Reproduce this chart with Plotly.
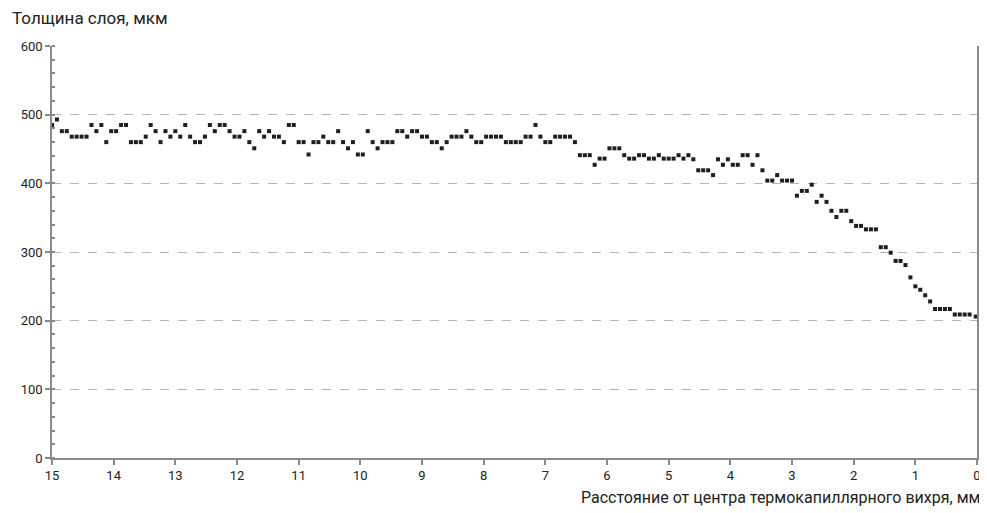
import plotly.graph_objects as go

# Distance from vortex centre, mm
distance_mm = [
    15.00, 14.92, 14.84, 14.76, 14.68, 14.60, 14.52, 14.44, 14.36, 14.28,
    14.20, 14.12, 14.04, 13.96, 13.88, 13.80, 13.72, 13.64, 13.56, 13.48,
    13.40, 13.32, 13.24, 13.16, 13.08, 13.00, 12.92, 12.84, 12.76, 12.68,
    12.60, 12.52, 12.44, 12.36, 12.28, 12.20, 12.12, 12.04, 11.96, 11.88,
    11.80, 11.72, 11.64, 11.56, 11.48, 11.40, 11.32, 11.24, 11.16, 11.08,
    11.00, 10.92, 10.84, 10.76, 10.68, 10.60, 10.52, 10.44, 10.36, 10.28,
    10.20, 10.12, 10.04, 9.96, 9.88, 9.80, 9.72, 9.64, 9.56, 9.48,
    9.40, 9.32, 9.24, 9.16, 9.08, 9.00, 8.92, 8.84, 8.76, 8.68,
    8.60, 8.52, 8.44, 8.36, 8.28, 8.20, 8.12, 8.04, 7.96, 7.88,
    7.80, 7.72, 7.64, 7.56, 7.48, 7.40, 7.32, 7.24, 7.16, 7.08,
    7.00, 6.92, 6.84, 6.76, 6.68, 6.60, 6.52, 6.44, 6.36, 6.28,
    6.20, 6.12, 6.04, 5.96, 5.88, 5.80, 5.72, 5.64, 5.56, 5.48,
    5.40, 5.32, 5.24, 5.16, 5.08, 5.00, 4.92, 4.84, 4.76, 4.68,
    4.60, 4.52, 4.44, 4.36, 4.28, 4.20, 4.12, 4.04, 3.96, 3.88,
    3.80, 3.72, 3.64, 3.56, 3.48, 3.40, 3.32, 3.24, 3.16, 3.08,
    3.00, 2.92, 2.84, 2.76, 2.68, 2.60, 2.52, 2.44, 2.36, 2.28,
    2.20, 2.12, 2.04, 1.96, 1.88, 1.80, 1.72, 1.64, 1.56, 1.48,
    1.40, 1.32, 1.24, 1.16, 1.08, 1.00, 0.92, 0.84, 0.76, 0.68,
    0.60, 0.52, 0.44, 0.36, 0.28, 0.20, 0.12, 0.02,
]

# Layer thickness, µm
thickness_um = [
    485, 493, 476, 476, 468, 468, 468, 468, 485, 476,
    485, 460, 476, 476, 485, 485, 460, 460, 460, 468,
    485, 476, 460, 476, 468, 476, 468, 485, 468, 460,
    460, 468, 485, 476, 485, 485, 476, 468, 468, 476,
    460, 451, 476, 468, 476, 468, 468, 460, 485, 485,
    460, 460, 442, 460, 460, 468, 460, 460, 476, 460,
    451, 460, 442, 442, 476, 460, 451, 460, 460, 460,
    476, 476, 468, 476, 476, 468, 468, 460, 460, 451,
    460, 468, 468, 468, 476, 468, 460, 460, 468, 468,
    468, 468, 460, 460, 460, 460, 468, 468, 485, 468,
    460, 460, 468, 468, 468, 468, 460, 441, 441, 441,
    427, 436, 436, 451, 451, 451, 441, 436, 436, 441,
    441, 436, 436, 441, 436, 436, 436, 441, 436, 441,
    435, 419, 419, 419, 412, 435, 427, 435, 427, 427,
    441, 441, 427, 441, 419, 404, 404, 412, 404, 404,
    404, 382, 389, 389, 398, 373, 382, 373, 360, 351,
    360, 360, 345, 338, 338, 333, 333, 333, 307, 307,
    299, 287, 287, 281, 263, 250, 245, 237, 228, 217,
    217, 217, 217, 209, 209, 209, 209, 206,
]

x_ticks = list(range(0, 16))
y_ticks = [0, 100, 200, 300, 400, 500, 600]

y_title = "Толщина слоя, мкм"
x_title = "Расстояние от центра термокапиллярного вихря, мм"

FONT = "Roboto, Liberation Sans, sans-serif"

fig = go.Figure()
fig.add_trace(go.Scatter(
    x=distance_mm, y=thickness_um, mode="markers",
    marker=dict(symbol="square", size=4, color="#1e1e1e", line=dict(width=0)),
    showlegend=False, hoverinfo="x+y",
))

fig.update_layout(
    width=979, height=505,
    margin=dict(l=44, r=10, t=38, b=55, autoexpand=False),
    plot_bgcolor="white", paper_bgcolor="white",
    font=dict(family=FONT, size=13, color="#222"),
    xaxis=dict(
        range=[15, 0], tickvals=x_ticks, ticktext=[str(v) for v in x_ticks],
        showgrid=False, zeroline=False,
        showline=True, linecolor="#8a8a8a", linewidth=1.5,
        ticks="outside", ticklen=5, tickcolor="#8a8a8a", tickwidth=1.5,
        tickfont=dict(size=13, color="#222"),
    ),
    yaxis=dict(
        range=[0, 600], tickvals=y_ticks,
        showgrid=True, gridcolor="#b5b5b5", griddash="dash", gridwidth=1,
        zeroline=False,
        showline=True, linecolor="#8a8a8a", linewidth=1.5, mirror=True,
        ticks="outside", ticklen=5, tickcolor="#8a8a8a", tickwidth=1.5,
        minor=dict(dtick=20, ticks="inside", ticklen=3, tickcolor="#8a8a8a", showgrid=False),
        tickfont=dict(size=13, color="#222"),
    ),
    annotations=[
        dict(text=y_title, xref="paper", yref="paper", x=-0.0454, y=1.068,
             xanchor="left", yanchor="middle", showarrow=False,
             font=dict(family=FONT, size=17, color="#222")),
        dict(text=x_title, xref="paper", yref="paper", x=1.0055, y=-0.095,
             xanchor="right", yanchor="middle", showarrow=False,
             font=dict(family=FONT, size=16, color="#222")),
    ],
)

fig.write_html("out.html")
